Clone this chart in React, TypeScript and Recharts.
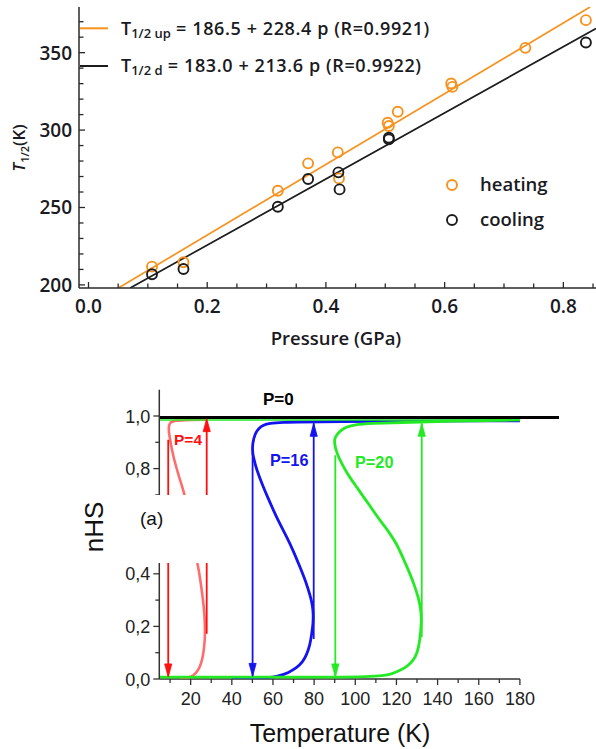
import React from 'react';
import { ComposedChart, Scatter, Line, XAxis, YAxis, ReferenceLine } from 'recharts';

// ---------- Top panel: T1/2 vs pressure ----------
const heatingP = [0.107, 0.16, 0.319, 0.37, 0.42, 0.422, 0.504, 0.506, 0.521, 0.611, 0.613, 0.736, 0.838];
const heatingT = [211.8, 214.6, 260.8, 278.5, 285.6, 268.8, 304.7, 302.6, 311.8, 330.1, 327.9, 353.1, 371.0];
const coolingP = [0.107, 0.16, 0.319, 0.37, 0.421, 0.423, 0.506, 0.506, 0.838];
const coolingT = [206.9, 210.3, 250.5, 268.4, 272.7, 261.7, 295.0, 294.0, 356.6];
const upFitP = [0.0504, 0.845];
const upFitT = [198, 379.5];
const downFitP = [0.0702, 0.855];
const downFitT = [198, 365.6];
const topXTicks = [0, 0.05, 0.1, 0.15, 0.2, 0.25, 0.3, 0.35, 0.4, 0.45, 0.5, 0.55, 0.6, 0.65, 0.7, 0.75, 0.8, 0.85];
const topYTicks = [200, 210, 220, 230, 240, 250, 260, 270, 280, 290, 300, 310, 320, 330, 340, 350, 360, 370];

// ---------- Bottom panel: nHS vs temperature ----------
const p4T = [15, 19, 21.3, 23.5, 25.2, 26.3, 26.9, 27.0, 26.7, 26.0, 25.0, 23.7, 23.2, 21.5, 19.5, 17.2, 14.8, 13.2, 11.6, 10.0, 9.3, 9.4, 10.3, 12.0, 16.0, 27.8];
const p4N = [0.003, 0.004, 0.013, 0.03, 0.06, 0.1, 0.15, 0.19, 0.25, 0.3, 0.36, 0.426, 0.44, 0.52, 0.61, 0.7, 0.757, 0.8, 0.845, 0.909, 0.945, 0.965, 0.977, 0.982, 0.984, 0.986];
const p16T = [40, 55, 60, 63.4, 67.5, 71.5, 74.5, 76.4, 78.0, 78.8, 79.5, 79.6, 79.2, 78.3, 76.0, 73.1, 70.0, 66.7, 63.3, 60.2, 57.5, 55.3, 52.1, 50.4, 50.0, 50.1, 51.3, 53.0, 55.3, 58.5, 63.4, 79.6, 180];
const p16N = [0.004, 0.004, 0.007, 0.0126, 0.024, 0.042, 0.065, 0.093, 0.13, 0.171, 0.21, 0.248, 0.28, 0.311, 0.37, 0.426, 0.485, 0.54, 0.59, 0.642, 0.69, 0.73, 0.794, 0.845, 0.87, 0.896, 0.934, 0.952, 0.966, 0.972, 0.976, 0.979, 0.982];
const p20T = [5, 95, 105, 113.6, 118, 121.7, 125.5, 128.2, 130.2, 131.4, 132.3, 131.8, 130.6, 128.8, 126.6, 123.5, 120.1, 116.3, 112.0, 106.5, 100.7, 97.0, 94.2, 91.0, 89.8, 90.0, 91.0, 93.0, 95.8, 100, 105.5, 132.3, 180];
const p20N = [0.007, 0.007, 0.009, 0.0126, 0.02, 0.032, 0.05, 0.07, 0.1, 0.146, 0.222, 0.27, 0.311, 0.355, 0.4, 0.455, 0.515, 0.56, 0.603, 0.665, 0.73, 0.77, 0.807, 0.858, 0.896, 0.915, 0.928, 0.946, 0.959, 0.967, 0.972, 0.978, 0.985];
const p20TopT = [5, 180];
const p20TopN = [0.985, 0.985];
const p0T = [5, 199];
const p0N = [0.994, 0.994];
const arrowTemps = [9.1, 27.8, 50.1, 79.8, 90.3, 132.3];
const arrowFrom = [0.91, 0.172, 0.864, 0.152, 0.851, 0.159];
const arrowTo = [0.008, 0.99, 0.01, 0.972, 0.008, 0.972];
const botXTicks = [10, 20, 30, 40, 50, 60, 70, 80, 90, 100, 110, 120, 130, 140, 150, 160, 170, 180];
const botYTicks = [0, 0.1, 0.2, 0.3, 0.4, 0.5, 0.6, 0.7, 0.8, 0.9, 1.0];
// 0,6 is hidden behind the white patch in the reference
const botYLabelled = [0, 0.2, 0.4, 0.8, 1.0];

const zipPT = (p: number[], t: number[]) => p.map((v, i) => ({ p: v, t: t[i] }));
const zipXY = (x: number[], y: number[]) => x.map((v, i) => ({ x: v, y: y[i] }));

const ORANGE = '#f7921e';
const DARK = '#1c1c1c';
const RED_CURVE = '#ff5c5c';
const RED = '#ff1010';
const BLUE = '#1414f0';
const GREEN = '#24ea24';
const arrowColors = [RED, RED, BLUE, BLUE, GREEN, GREEN];

const FONT_TOP = "'Open Sans', sans-serif";
const FONT_BOT = "'Liberation Sans', Arial, sans-serif";
const TXT_TOP = '#1a1a22';

const TopXTick = (props: any) => {
  const { x, y, payload } = props;
  const v = payload.value;
  const k = Math.round(v * 10);
  const major = Math.abs(k - v * 10) < 1e-6 && k % 2 === 0;
  return (
    <g>
      <line x1={x} x2={x} y1={y} y2={y - (major ? 6 : 4.5)} stroke="#2a2a2a" strokeWidth={1.3} />
      {major && (
        <text x={x} y={y + 25} textAnchor="middle" fontSize={19} fontWeight={600} fontFamily={FONT_TOP} fill={TXT_TOP}>
          {v.toFixed(1)}
        </text>
      )}
    </g>
  );
};

const TopYTick = (props: any) => {
  const { x, y, payload } = props;
  const v = payload.value;
  const major = v % 50 === 0;
  return (
    <g>
      <line x1={x} x2={x + (major ? 6 : 4.5)} y1={y} y2={y} stroke="#2a2a2a" strokeWidth={1.3} />
      {major && (
        <text x={x - 7} y={y + 7} textAnchor="end" fontSize={19} fontWeight={600} fontFamily={FONT_TOP} fill={TXT_TOP}>
          {v}
        </text>
      )}
    </g>
  );
};

const BotXTick = (props: any) => {
  const { x, y, payload } = props;
  const v = payload.value;
  const major = v % 20 === 0;
  return (
    <g>
      <line x1={x} x2={x} y1={y} y2={y + (major ? 6 : 4)} stroke="#333" strokeWidth={1.3} />
      {major && (
        <text x={x} y={y + 26} textAnchor="middle" fontSize={18} fontFamily={FONT_BOT} fill="#222">
          {v}
        </text>
      )}
    </g>
  );
};

const BotYTick = (props: any) => {
  const { x, y, payload } = props;
  const v = payload.value;
  const k = Math.round(v * 10);
  const major = k % 2 === 0;
  const labelled = botYLabelled.some((l) => Math.abs(l - v) < 1e-6);
  return (
    <g>
      <line x1={x} x2={x - (major ? 6 : 4)} y1={y} y2={y} stroke="#333" strokeWidth={1.3} />
      {labelled && (
        <text x={x - 9} y={y + 6.5} textAnchor="end" fontSize={18} fontFamily={FONT_BOT} fill="#222">
          {v.toFixed(1).replace('.', ',')}
        </text>
      )}
    </g>
  );
};

const openCircle = (color: string) => (props: any) => {
  const { cx, cy } = props;
  return <circle cx={cx} cy={cy} r={5} fill="none" stroke={color} strokeWidth={1.9} />;
};

const arrowDot = (color: string, up: boolean) => (props: any) => {
  const { cx, cy, index } = props;
  if (index !== 1 || cx == null || cy == null) return <g key={`n${index}`} />;
  const s = up ? 1 : -1;
  const pts = `${cx},${cy} ${cx - 3.6},${cy + s * 13} ${cx + 3.6},${cy + s * 13}`;
  return <polygon key={`a${index}`} points={pts} fill={color} stroke={color} strokeWidth={0.8} />;
};

export default function App() {
  const heating = zipPT(heatingP, heatingT);
  const cooling = zipPT(coolingP, coolingT);
  const upFit = zipPT(upFitP, upFitT);
  const downFit = zipPT(downFitP, downFitT);

  const p4 = zipXY(p4T, p4N);
  const p16 = zipXY(p16T, p16N);
  const p20 = zipXY(p20T, p20N);
  const p20Top = zipXY(p20TopT, p20TopN);
  const p0 = zipXY(p0T, p0N);
  const arrows = arrowTemps.map((t, i) => [
    { x: t, y: arrowFrom[i] },
    { x: t, y: arrowTo[i] },
  ]);

  return (
    <div style={{ position: 'absolute', left: 0, top: 0, width: 596, height: 749, background: '#fff', overflow: 'hidden' }}>
      <div style={{ position: 'absolute', left: 0, top: 0 }}>
        <ComposedChart width={596} height={360} margin={{ top: 7, right: 0, left: 0, bottom: 0 }}>
          <XAxis
            type="number"
            dataKey="p"
            domain={[-0.016, 0.855]}
            ticks={topXTicks}
            interval={0}
            allowDataOverflow
            height={72}
            tickLine={false}
            tickSize={0}
            tickMargin={0}
            tick={<TopXTick />}
            axisLine={{ stroke: '#2a2a2a', strokeWidth: 1.5 }}
          />
          <YAxis
            type="number"
            dataKey="t"
            domain={[198, 379.5]}
            ticks={topYTicks}
            interval={0}
            allowDataOverflow
            width={79}
            tickLine={false}
            tickSize={0}
            tickMargin={0}
            tick={<TopYTick />}
            axisLine={{ stroke: '#2a2a2a', strokeWidth: 1.5 }}
          />
          <Line data={upFit} dataKey="t" stroke={ORANGE} strokeWidth={1.7} dot={false} isAnimationActive={false} />
          <Line data={downFit} dataKey="t" stroke={DARK} strokeWidth={1.7} dot={false} isAnimationActive={false} />
          <Scatter data={heating} fill={ORANGE} shape={openCircle(ORANGE)} isAnimationActive={false} />
          <Scatter data={cooling} fill={DARK} shape={openCircle(DARK)} isAnimationActive={false} />
        </ComposedChart>
      </div>

      <div style={{ position: 'absolute', left: 0, top: 380 }}>
        <ComposedChart width={596} height={369} margin={{ top: 9.7, right: 37, left: 0, bottom: 10 }}>
          <XAxis
            type="number"
            dataKey="x"
            domain={[4.76, 199]}
            ticks={botXTicks}
            interval={0}
            allowDataOverflow
            height={60}
            tickLine={false}
            tickSize={0}
            tickMargin={0}
            tick={<BotXTick />}
            axisLine={false}
          />
          <YAxis
            type="number"
            dataKey="y"
            domain={[0, 1.1]}
            ticks={botYTicks}
            interval={0}
            allowDataOverflow
            width={159.3}
            tickLine={false}
            tickSize={0}
            tickMargin={0}
            tick={<BotYTick />}
            axisLine={{ stroke: '#333', strokeWidth: 1.5 }}
          />
          <ReferenceLine segment={[{ x: 4.76, y: 0 }, { x: 180, y: 0 }]} stroke="#333" strokeWidth={1.5} />
          <Line data={p4} dataKey="y" type="basis" stroke={RED_CURVE} strokeOpacity={0.9} strokeWidth={2.6} dot={false} isAnimationActive={false} />
          <Line data={arrows[0]} dataKey="y" stroke={arrowColors[0]} strokeWidth={1.8} dot={arrowDot(arrowColors[0], false)} isAnimationActive={false} />
          <Line data={arrows[1]} dataKey="y" stroke={arrowColors[1]} strokeWidth={1.8} dot={arrowDot(arrowColors[1], true)} isAnimationActive={false} />
          <Line data={p16} dataKey="y" type="basis" stroke={BLUE} strokeWidth={2.8} dot={false} isAnimationActive={false} />
          <Line data={arrows[2]} dataKey="y" stroke={arrowColors[2]} strokeWidth={1.8} dot={arrowDot(arrowColors[2], false)} isAnimationActive={false} />
          <Line data={arrows[3]} dataKey="y" stroke={arrowColors[3]} strokeWidth={1.8} dot={arrowDot(arrowColors[3], true)} isAnimationActive={false} />
          <Line data={p20} dataKey="y" type="basis" stroke={GREEN} strokeWidth={2.8} dot={false} isAnimationActive={false} />
          <Line data={arrows[4]} dataKey="y" stroke={arrowColors[4]} strokeWidth={1.8} dot={arrowDot(arrowColors[4], false)} isAnimationActive={false} />
          <Line data={arrows[5]} dataKey="y" stroke={arrowColors[5]} strokeWidth={1.8} dot={arrowDot(arrowColors[5], true)} isAnimationActive={false} />
          <Line data={p20Top} dataKey="y" stroke={GREEN} strokeWidth={1.6} dot={false} isAnimationActive={false} />
          <Line data={p0} dataKey="y" stroke="#000" strokeWidth={3} dot={false} isAnimationActive={false} />
        </ComposedChart>
      </div>

      <svg width={596} height={749} style={{ position: 'absolute', left: 0, top: 0, pointerEvents: 'none' }}>
        {/* top legend: fits */}
        <line x1={80} x2={108} y1={28.3} y2={28.3} stroke={ORANGE} strokeWidth={2} />
        <text x={121} y={34.5} fontSize={18} fontWeight={600} fontFamily={FONT_TOP} fill={TXT_TOP}>
          T<tspan fontSize={13} dy={3}>1/2 up</tspan>
          <tspan dy={-3} letterSpacing={0.6}> = 186.5 + 228.4 p (R=0.9921)</tspan>
        </text>
        <line x1={80} x2={108} y1={66} y2={66} stroke={DARK} strokeWidth={2} />
        <text x={121} y={72} fontSize={18} fontWeight={600} fontFamily={FONT_TOP} fill={TXT_TOP}>
          T<tspan fontSize={13} dy={3}>1/2 d</tspan>
          <tspan dy={-3} letterSpacing={0.6}> = 183.0 + 213.6 p (R=0.9922)</tspan>
        </text>
        {/* top legend: symbols */}
        <circle cx={452} cy={185} r={5} fill="none" stroke={ORANGE} strokeWidth={1.9} />
        <text x={480} y={191} fontSize={18.5} fontWeight={600} fontFamily={FONT_TOP} fill={TXT_TOP}>heating</text>
        <circle cx={452} cy={220} r={5} fill="none" stroke={DARK} strokeWidth={1.9} />
        <text x={480} y={226} fontSize={18.5} fontWeight={600} fontFamily={FONT_TOP} fill={TXT_TOP}>cooling</text>
        {/* top axis titles */}
        <text x={336} y={345} textAnchor="middle" fontSize={18.5} fontWeight={600} fontFamily={FONT_TOP} fill={TXT_TOP}>Pressure (GPa)</text>
        <text transform="translate(25,148) rotate(-90)" textAnchor="middle" fontSize={17} fontWeight={600} fontFamily={FONT_TOP} fill={TXT_TOP}>
          <tspan fontStyle="italic">T</tspan>
          <tspan fontSize={11} dy={4}>1/2</tspan>
          <tspan dy={-4}>(K)</tspan>
        </text>

        {/* bottom panel: white patch, labels */}
        <rect x={60} y={495} width={180} height={68} fill="#fff" />
        <text x={140} y={525} fontSize={19} fontFamily={FONT_BOT} fill="#111">(a)</text>
        <text transform="translate(103,527) rotate(-90)" textAnchor="middle" fontSize={26} fontFamily={FONT_BOT} fill="#111">
          n<tspan>HS</tspan>
        </text>
        <text x={340} y={742} textAnchor="middle" fontSize={25} fontFamily={FONT_BOT} fill="#111">Temperature (K)</text>
        <text x={263} y={405} fontSize={17} fontWeight="bold" fontFamily={FONT_BOT} fill="#000">P=0</text>
        <text x={174} y={445} fontSize={15.5} fontWeight="bold" fontFamily={FONT_BOT} fill={RED}>P=4</text>
        <text x={270} y={466} fontSize={16.3} fontWeight="bold" fontFamily={FONT_BOT} fill={BLUE}>P=16</text>
        <text x={355} y={468} fontSize={16.3} fontWeight="bold" fontFamily={FONT_BOT} fill={GREEN}>P=20</text>
      </svg>
    </div>
  );
}
